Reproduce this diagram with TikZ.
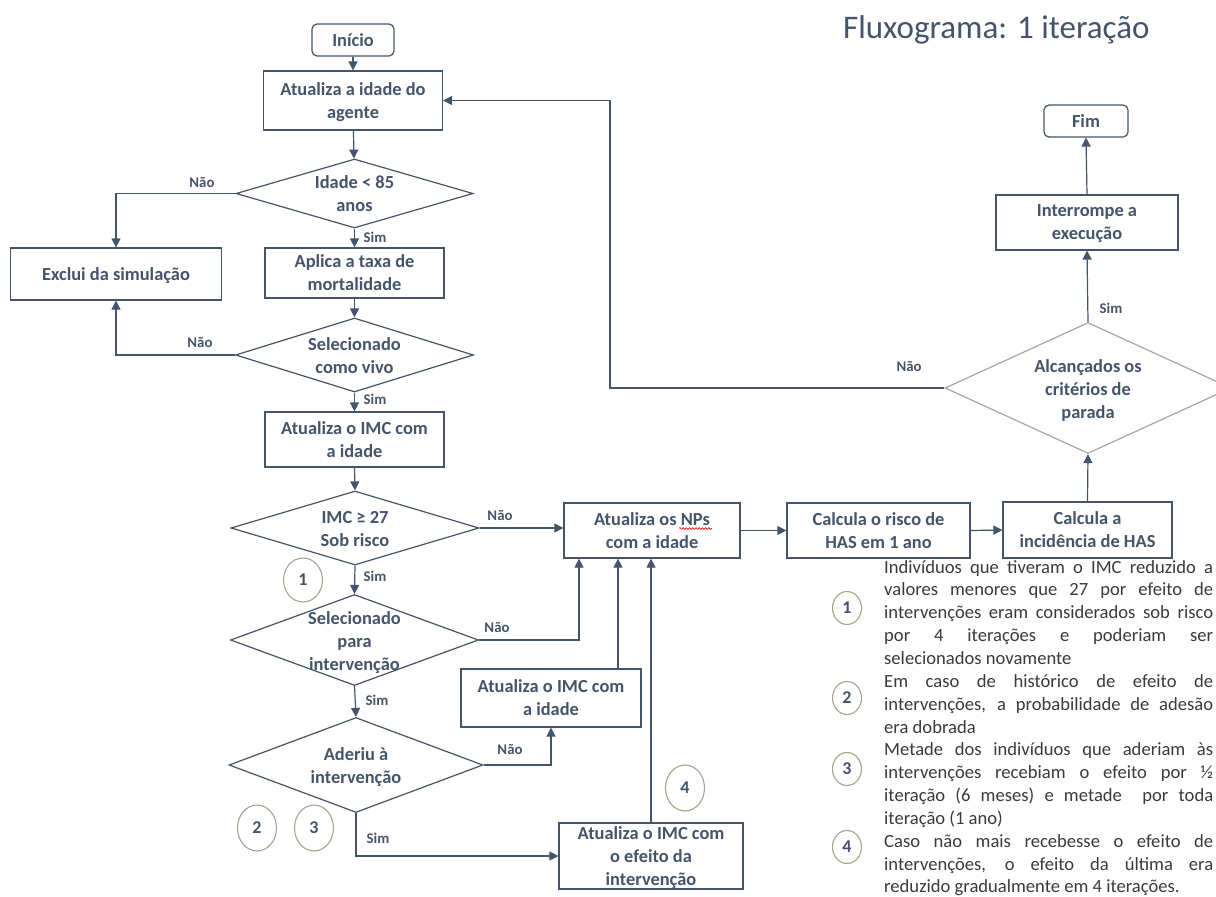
\documentclass[tikz,border=0pt]{standalone}
\usepackage{fontspec}
\setmainfont{Carlito}
\usetikzlibrary{shapes.geometric,arrows.meta,calc,decorations.pathmorphing}
\definecolor{mc}{HTML}{44546A}
\definecolor{gc}{HTML}{A6A6A6}
\definecolor{numc}{HTML}{A8A28F}
\definecolor{notec}{HTML}{3A3A3A}
\begin{document}
\begin{tikzpicture}[x=1pt,y=-1pt,
  every node/.style={text=mc},
  box/.style={draw=mc, line width=1.2pt, rectangle, inner sep=0pt, align=center, text depth=0pt, font=\bfseries\fontsize{18.4}{23}\selectfont},
  term/.style={box, rounded corners=5pt},
  dia/.style={draw=mc, line width=1.2pt, shape=diamond, inner sep=0pt},
  dtext/.style={align=center, inner sep=0pt, text depth=0pt, font=\bfseries\fontsize{18.4}{23}\selectfont},
  lbl/.style={inner sep=0pt, font=\bfseries\fontsize{14.8}{17}\selectfont},
  arr/.style={draw=mc, line width=1.2pt, -{Triangle[length=9pt,width=9pt]}},
  num/.style={draw=numc, line width=1.1pt, ellipse, inner sep=0pt, font=\bfseries\fontsize{18}{20}\selectfont},
  note/.style={anchor=base west, inner sep=0pt, text=notec, font=\fontsize{18.6}{23}\selectfont},
  just/.style={note}
]
\useasboundingbox (0,0) rectangle (1216,897);
\fill[white] (0,0) rectangle (1216,897);

% title
\node[anchor=base west, inner sep=0pt, font=\fontsize{33}{38}\selectfont] (title) at (843,38) {Fluxograma: 1 iteração};

% left column
\node[term, minimum width=82pt, minimum height=32pt] (inicio) at (353,40) {Início};
\node[box, minimum width=179pt, minimum height=59pt] (idade) at (353,100.5) {Atualiza a idade do\\agente};
\node[dia, minimum width=237pt, minimum height=69pt] (d1) at (354.5,193.5) {};
\node[dtext] (t1) at (d1.center) {Idade < 85\\anos};
\node[box, minimum width=211pt, minimum height=52pt] (exclui) at (116,274) {Exclui da simulação};
\node[box, minimum width=179pt, minimum height=50pt] (aplica) at (354.5,273) {Aplica a taxa de\\mortalidade};
\node[dia, minimum width=238pt, minimum height=74pt] (d2) at (354.5,355) {};
\node[dtext] (t2) at (354.5,356) {Selecionado\\como vivo};
\node[box, minimum width=179pt, minimum height=55pt] (imc1) at (354.5,439.5) {Atualiza o IMC com\\a idade};
\node[dia, minimum width=248pt, minimum height=74pt] (d3) at (355,528) {};
\node[dtext] (t3) at (355,528.5) {IMC ≥ 27\\Sob risco};
\node[dia, minimum width=248pt, minimum height=91pt] (d4) at (354.5,640) {};
\node[dtext] (t4) at (354.5,641) {Selecionado\\para\\intervenção};
\node[dia, minimum width=254pt, minimum height=95pt] (d5) at (356,765) {};
\node[dtext] (t5) at (356,766) {Aderiu à\\intervenção};

% middle
\node[box, minimum width=176pt, minimum height=55pt] (nps) at (652,530.5) {Atualiza os NPs\\com a idade};
\node[box, minimum width=180pt, minimum height=58pt] (imc2) at (551,698) {Atualiza o IMC com\\a idade};
\node[box, minimum width=184pt, minimum height=66pt] (efeito) at (651,856) {Atualiza o IMC com\\o efeito da\\intervenção};
\node[box, minimum width=183pt, minimum height=55pt] (risco) at (878.5,530.5) {Calcula o risco de\\HAS em 1 ano};
\node[box, minimum width=169pt, minimum height=56pt] (incid) at (1087.5,530) {Calcula a\\incidência de HAS};

% right column
\node[dia, draw=gc, minimum width=286pt, minimum height=131pt] (d6) at (1088,388) {};
\node[dtext] (t6) at (1088,389) {Alcançados os\\critérios de\\parada};
\node[box, minimum width=182pt, minimum height=55pt] (interr) at (1087,222.5) {Interrompe a\\execução};
\node[term, minimum width=84pt, minimum height=32pt] (fim) at (1086,121) {Fim};

% spell-check wave under NPs
\draw[red, line width=0.6pt, decorate, decoration={snake, amplitude=0.9pt, segment length=3.2pt}]
  ($(nps.center)+(27,-2)$) -- ($(nps.center)+(60,-2)$);

% connectors
\coordinate (lp) at (610,0);
\draw[arr] (inicio) -- (idade);
\draw[arr] (idade) -- (d1);
\draw[arr] (d1.west) -| (exclui.north);
\draw[arr] (d1.south) -- (aplica.north);
\draw[arr] (aplica.south) -- (d2.north);
\draw[arr] (d2.west) -| (exclui.south);
\draw[arr] (d2.south) -- (imc1.north);
\draw[arr] (imc1.south) -- (d3.north);
\draw[arr] (d3.east) -- (d3.east -| nps.west);
\draw[arr] (d3.south) -- (d4.north);
\draw[arr] (d4.east) -| ([xshift=-73pt]nps.south);
\draw[arr] (d4.south) -- (d5.north);
\draw[arr] (d5.east) -| (imc2.south);
\draw[arr] ([xshift=67pt]imc2.north) -- ([xshift=67pt]imc2.north |- nps.south);
\draw[arr] (efeito.north) -- (efeito.north |- nps.south);
\draw[arr] (d5.south) |- (efeito.west);
\draw[arr] (nps.east) -- (risco.west);
\draw[arr] (risco.east) -- (incid.west);
\draw[arr] (incid.north) -- (d6.south);
\draw[arr] (d6.north) -- (interr.south);
\draw[arr] (interr.north) -- (fim.south);
\draw[arr] (d6.west) -| (lp |- idade.east) -- (idade.east);

% labels
\node[lbl] (l1) at (202,183) {Não};
\node[lbl] (l2) at (375,237) {Sim};
\node[lbl] (l3) at (200,343) {Não};
\node[lbl] (l4) at (375,399) {Sim};
\node[lbl] (l5) at (500,515) {Não};
\node[lbl] (l6) at (375,576) {Sim};
\node[lbl] (l7) at (497,627) {Não};
\node[lbl] (l8) at (377,700) {Sim};
\node[lbl] (l9) at (510,749) {Não};
\node[lbl] (l10) at (378,838) {Sim};
\node[lbl] (l11) at (909,367) {Não};
\node[lbl] (l12) at (1111,308) {Sim};

% numbered markers in chart
\node[num, minimum width=39pt, minimum height=44pt] (c1) at (303,580) {1};
\node[num, minimum width=39pt, minimum height=46pt] (c2) at (257,828) {2};
\node[num, minimum width=39pt, minimum height=46pt] (c3) at (314,828) {3};
\node[num, minimum width=39pt, minimum height=46pt] (c4) at (685,788) {4};

% notes markers
\node[num, minimum width=29pt, minimum height=33pt] (m1) at (847,608) {1};
\node[num, minimum width=29pt, minimum height=33pt] (m2) at (847,698) {2};
\node[num, minimum width=29pt, minimum height=33pt] (m3) at (847,769) {3};
\node[num, minimum width=29pt, minimum height=33pt] (m4) at (847,847) {4};

% notes text
\node[just] (a1) at (884,573) {\makebox[329pt][s]{Indivíduos que tiveram o IMC reduzido a}};
\node[just] (a2) at (884,595.9) {\makebox[329pt][s]{valores menores que 27 por efeito de}};
\node[just] (a3) at (884,618.7) {\makebox[329pt][s]{intervenções eram considerados sob risco}};
\node[just] (a4) at (884,641.6) {\makebox[329pt][s]{por 4 iterações e poderiam ser}};
\node[just] (a5) at (884,664.4) {selecionados novamente};
\node[just] (b1) at (884,687.3) {\makebox[329pt][s]{Em caso de histórico de efeito de}};
\node[just] (b2) at (884,710.2) {\makebox[329pt][s]{intervenções, a probabilidade de adesão}};
\node[just] (b3) at (884,733) {era dobrada};
\node[just] (e1) at (884,755.9) {\makebox[329pt][s]{Metade dos indivíduos que aderiam às}};
\node[just] (e2) at (884,778.7) {\makebox[329pt][s]{intervenções recebiam o efeito por ½}};
\node[just] (e3) at (884,801.6) {\makebox[329pt][s]{iteração (6 meses) e metade\ \ por toda}};
\node[just] (e4) at (884,824.5) {iteração (1 ano)};
\node[just] (f1) at (884,847.3) {\makebox[329pt][s]{Caso não mais recebesse o efeito de}};
\node[just] (f2) at (884,870.2) {\makebox[329pt][s]{intervenções, o efeito da última era}};
\node[just] (f3) at (884,892.5) {reduzido gradualmente em 4 iterações.};
\end{tikzpicture}
\end{document}
